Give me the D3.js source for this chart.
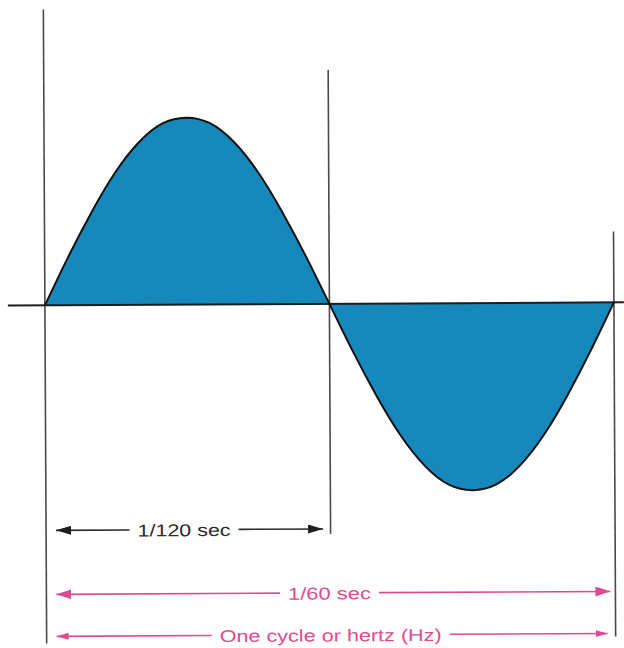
<!DOCTYPE html>
<html>
<head>
<meta charset="utf-8">
<script src="https://d3js.org/d3.v7.min.js"></script>
<style>
  body { margin: 0; background: #fff; }
  svg { display: block; }
</style>
</head>
<body>
<svg id="chart"></svg>
<script>
  var times = [0, 1, 2, 3, 4, 5, 6, 7, 8, 9, 10, 11, 12, 13, 14, 15, 16, 17, 18, 19, 20, 21, 22, 23, 24]
  var volts = [0, 0.26, 0.5, 0.71, 0.87, 0.97, 1, 0.97, 0.87, 0.71, 0.5, 0.26, 0,
               -0.26, -0.5, -0.71, -0.87, -0.97, -1, -0.97, -0.87, -0.71, -0.5, -0.26, 0]
  var markTimes = [0, 12, 24]          // start, half cycle, full cycle
  var labels = ['1/120 sec', '1/60 sec', 'One cycle or hertz (Hz)']

  var W = 624, H = 648
  var svg = d3.select('#chart').attr('width', W).attr('height', H)

  var x = d3.scaleLinear().domain([0, 24]).range([45, 614])
  var y = d3.scaleLinear().domain([-1, 1]).range([491, 117])

  var g = svg.append('g').attr('transform', 'rotate(-0.3, 312, 324)')

  var pts = times.map(function (t, i) { return [t, volts[i]] })

  // filled wave
  g.append('path')
      .datum(pts)
      .attr('fill', '#1688bb')
      .attr('d', d3.area().x(function (d) { return x(d[0]) })
          .y0(y(0)).y1(function (d) { return y(d[1]) }).curve(d3.curveNatural))

  // vertical reference lines
  var vTop = [8, 70, 233], vBot = [642, 534, 638]
  g.selectAll('line.v').data(markTimes).enter().append('line')
      .attr('class', 'v')
      .attr('x1', function (d) { return x(d) }).attr('x2', function (d) { return x(d) })
      .attr('y1', function (d, i) { return vTop[i] }).attr('y2', function (d, i) { return vBot[i] })
      .attr('stroke', '#4a4a4a').attr('stroke-width', 1.6)

  // baseline
  g.append('line')
      .attr('x1', 8).attr('x2', W).attr('y1', y(0)).attr('y2', y(0))
      .attr('stroke', '#1d1d1d').attr('stroke-width', 2)

  // outline of wave
  g.append('path')
      .datum(pts)
      .attr('fill', 'none').attr('stroke', '#111').attr('stroke-width', 2)
      .attr('d', d3.line().x(function (d) { return x(d[0]) })
          .y(function (d) { return y(d[1]) }).curve(d3.curveNatural))

  // dimension arrows
  var defs = svg.append('defs')
  function marker(id, col, w, h) {
    defs.append('marker').attr('id', id)
        .attr('viewBox', '0 0 10 10').attr('refX', 10).attr('refY', 5)
        .attr('preserveAspectRatio', 'none')
        .attr('markerUnits', 'userSpaceOnUse')
        .attr('markerWidth', w).attr('markerHeight', h).attr('orient', 'auto-start-reverse')
      .append('path').attr('d', 'M0,0 L10,5 L0,10 Z').attr('fill', col)
  }
  marker('ab', '#1e1e1e', 15, 9)
  marker('ap', '#dc4b92', 15, 10)
  marker('ap2', '#dc4b92', 12, 7)

  var dims = [
    {label: labels[0], y: 529, x0: 55, x1: 322, col: '#2a2a2a', mk: 'ab', tw: 93, tc: 183},
    {label: labels[1], y: 593, x0: 55, x1: 609, col: '#dc4b92', mk: 'ap', tw: 83, tc: 328},
    {label: labels[2], y: 635, x0: 55, x1: 606, col: '#dc4b92', mk: 'ap2', tw: 222, tc: 329}
  ]

  dims.forEach(function (d) {
    var gap = 8
    g.append('line')
        .attr('x1', d.tc - d.tw / 2 - gap).attr('x2', d.x0).attr('y1', d.y).attr('y2', d.y)
        .attr('stroke', d.col).attr('stroke-width', 1.6).attr('marker-end', 'url(#' + d.mk + ')')
    g.append('line')
        .attr('x1', d.tc + d.tw / 2 + gap).attr('x2', d.x1).attr('y1', d.y).attr('y2', d.y)
        .attr('stroke', d.col).attr('stroke-width', 1.6).attr('marker-end', 'url(#' + d.mk + ')')
    g.append('text')
        .attr('x', d.tc).attr('y', d.y + 1)
        .attr('text-anchor', 'middle').attr('dominant-baseline', 'central')
        .attr('textLength', d.tw).attr('lengthAdjust', 'spacingAndGlyphs')
        .style('font-family', 'Liberation Sans, Arial, sans-serif')
        .style('font-size', '17px')
        .attr('fill', d.col)
        .text(d.label)
  })
</script>
</body>
</html>
